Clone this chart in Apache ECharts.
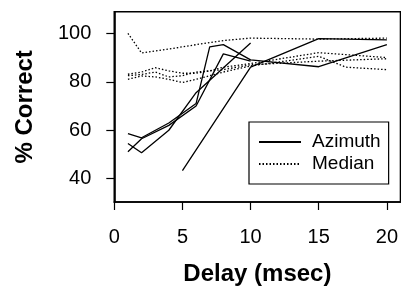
<!DOCTYPE html>
<html><head><meta charset="utf-8">
<script src="https://cdn.jsdelivr.net/npm/echarts@6/dist/echarts.min.js"></script>
<style>html,body{margin:0;padding:0;background:#fff}#c{width:401px;height:291px}</style>
</head><body><div id="c"></div>
<script>
// Azimuth (solid) series: [delay, % correct]
const azimuth1 = [[5,43.3],[10,86],[15,97.8],[20,97.3]];
const azimuth2 = [[1,58.6],[2,56.9],[4,63],[6,71],[7,94.4],[8,95.3],[10,89],[15,86.2],[20,95.3]];
const azimuth3 = [[1,51.1],[2,56.5],[4,62],[6,70],[8,91.5],[10,88.5]];
const azimuth4 = [[1,54.5],[2,50.7],[4,60],[6,75.5],[10,96]];
// Median (dotted) series
const median1 = [[1,100],[2,91.9],[4,93.5],[6,95.3],[8,97],[10,98],[15,97.6],[20,98]];
const median2 = [[1,83.1],[2,84],[3,85.8],[4,84.5],[5,83.5],[6,83.5],[7,84.5],[8,86],[10,87.5],[15,92],[20,90]];
const median3 = [[1,81],[2,82.4],[3,82],[4,81],[5,79.7],[6,81],[8,84],[10,86.5],[15,90.5],[17,86],[20,85]];
const median4 = [[1,82.5],[2,83],[3,84],[4,82],[5,82.5],[6,84],[8,85],[10,87],[15,88.5],[20,89.5]];
const xTicks = [0,5,10,15,20];
const yTicks = [40,60,80,100];
const legendNames = ['Azimuth','Median'];

const solid = [azimuth1, azimuth2, azimuth3, azimuth4];
const dotted = [median1, median2, median3, median4];
const series = [];
solid.forEach(d => series.push({name:'Azimuth', type:'line', data:d, symbol:'none', silent:true,
  itemStyle:{color:'#000'}, lineStyle:{color:'#000', width:1.3, type:'solid'}}));
dotted.forEach(d => series.push({name:'Median', type:'line', data:d, symbol:'none', silent:true,
  itemStyle:{color:'#000'}, lineStyle:{color:'#000', width:1.3, type:[1.5,2]}}));

const chart = echarts.init(document.getElementById('c'), null, {renderer:'canvas'});
chart.setOption({
  animation:false,
  backgroundColor:'#fff',
  textStyle:{fontFamily:'Liberation Sans'},
  grid:{left:114.3, right:-1, top:11.7, bottom:87, show:true, borderColor:'#000', borderWidth:1.6, containLabel:false},
  legend:{
    data:legendNames, orient:'vertical', left:249, top:122,
    padding:[10,8,10,9], itemGap:2, itemWidth:42, itemHeight:20,
    borderColor:'#000', borderWidth:1.2, backgroundColor:'#fff',
    itemStyle:{opacity:0},
    textStyle:{fontFamily:'Liberation Sans', fontSize:19, color:'#000', lineHeight:20, padding:[0,0,0,6]}
  },
  xAxis:{
    type:'value', min:0, max:21,
    axisLine:{show:true, lineStyle:{color:'#000', width:1.6}},
    axisTick:{show:true, length:8, customValues:xTicks, lineStyle:{color:'#000', width:1.2}},
    axisLabel:{customValues:xTicks, margin:25, fontSize:20, color:'#000', fontFamily:'Liberation Sans'},
    splitLine:{show:false},
    name:'Delay (msec)', nameLocation:'middle', nameGap:60,
    nameTextStyle:{fontSize:24, fontWeight:'bold', color:'#000', fontFamily:'Liberation Sans'}
  },
  yAxis:{
    type:'value', min:30.4, max:108.9,
    axisLine:{show:true, lineStyle:{color:'#000', width:1.6}},
    axisTick:{show:true, length:8, customValues:yTicks, lineStyle:{color:'#000', width:1.2}},
    axisLabel:{customValues:yTicks, margin:23, fontSize:20, color:'#000', fontFamily:'Liberation Sans'},
    splitLine:{show:false},
    name:'% Correct', nameLocation:'middle', nameGap:77, nameRotate:90,
    nameTextStyle:{fontSize:24, fontWeight:'bold', color:'#000', fontFamily:'Liberation Sans'}
  },
  series: series
});
</script></body></html>
